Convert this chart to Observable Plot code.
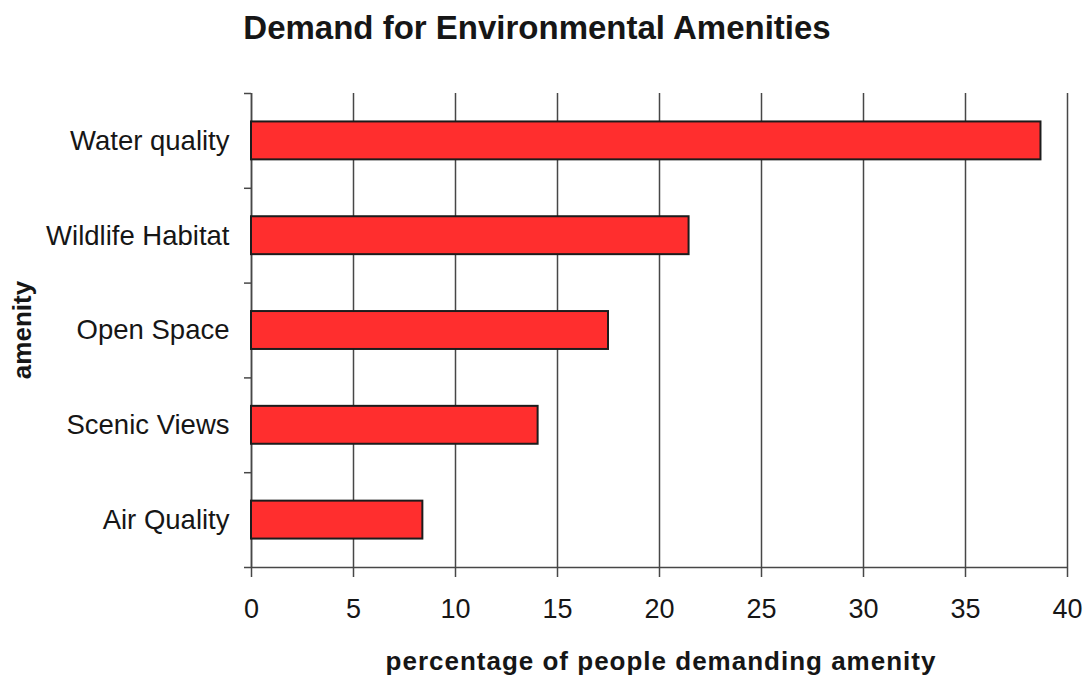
<!DOCTYPE html>
<html>
<head>
<meta charset="utf-8">
<script src="https://cdn.jsdelivr.net/npm/d3@7"></script>
<script src="https://cdn.jsdelivr.net/npm/@observablehq/plot@0.6"></script>
<style>
  body { margin: 0; background: #fff; font-family: "Liberation Sans", Arial, sans-serif; }
  #chart { position: relative; width: 1091px; height: 679px; }
  #chart svg { position: absolute; left: 0; top: 0; }
  #title { position: absolute; left: 0; width: 1074px; top: 9px; text-align: center;
           font-weight: bold; font-size: 33px; color: #161616; }
  #xlabel { position: absolute; left: 0; width: 1322px; top: 646px; text-align: center;
            font-weight: bold; font-size: 26px; letter-spacing: 1px; color: #161616; }
  #ylabel { position: absolute; left: 22px; top: 330px; transform: translate(-50%, -50%) rotate(-90deg);
            font-weight: bold; font-size: 26px; color: #161616; white-space: nowrap; }
</style>
</head>
<body>
<div id="chart">
  <div id="title">Demand for Environmental Amenities</div>
  <div id="xlabel">percentage of people demanding amenity</div>
  <div id="ylabel">amenity</div>
</div>
<script>
// Amenities, top to bottom, and the share of people demanding each (%)
const amenities = ["Water quality", "Wildlife Habitat", "Open Space", "Scenic Views", "Air Quality"];
const percentages = [38.7, 21.45, 17.5, 14.05, 8.4];
const xTicks = [0, 5, 10, 15, 20, 25, 30, 35, 40];

// Category rows keyed by their slot index on the vertical scale
const rows = amenities.map((name, i) => ({name, i, value: percentages[i]}));
const slots = rows.map(d => d.i);
// Category boundaries, half a slot either side of each bar
const boundaries = d3.range(amenities.length + 1).map(k => k - 0.5);
const halfBar = 0.2;

const lineColor = "#474747";

const chart = Plot.plot({
  width: 1091,
  height: 679,
  marginTop: 93,
  marginBottom: 112,
  marginLeft: 251,
  marginRight: 24,
  style: {fontFamily: "'Liberation Sans', Arial, sans-serif", color: "#161616", background: "transparent"},
  x: {domain: [0, 40]},
  y: {domain: [-0.5, amenities.length - 0.5], reverse: true},
  marks: [
    Plot.gridX(xTicks, {stroke: lineColor, strokeOpacity: 1, strokeWidth: 1.5}),
    Plot.ruleY([amenities.length - 0.5], {stroke: lineColor, strokeWidth: 1.5}),
    Plot.ruleX([0], {stroke: lineColor, strokeWidth: 1.5}),
    Plot.axisY(boundaries, {tickSize: 7, tickFormat: () => "", stroke: lineColor, strokeWidth: 1.5, label: null}),
    Plot.axisY(slots, {tickSize: 0, tickPadding: 22, tickFormat: i => amenities[i], fontSize: 27.5, label: null}),
    Plot.axisX(xTicks, {tickSize: 10, tickPadding: 21, stroke: lineColor, strokeWidth: 1.5, fontSize: 27, label: null}),
    Plot.rectX(rows, {
      x1: 0,
      x2: "value",
      y1: d => d.i - halfBar,
      y2: d => d.i + halfBar,
      fill: "#ff2e2e",
      stroke: "#1c1c1c",
      strokeWidth: 2
    })
  ]
});

document.getElementById("chart").prepend(chart);
</script>
</body>
</html>
